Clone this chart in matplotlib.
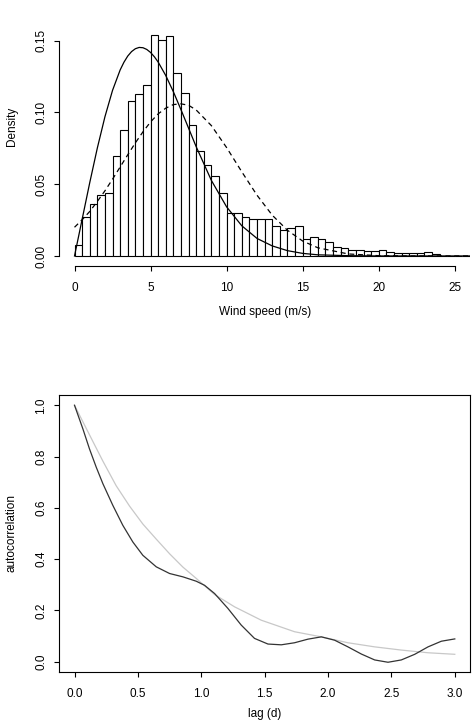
import numpy as np
import matplotlib.pyplot as plt

plt.rcParams['font.family'] = ['Liberation Sans', 'DejaVu Sans']

# --- histogram (density, bins of 0.5 m/s from 0 to 26) ---
bin_width = 0.5
density = [0.0076, 0.0273, 0.0359, 0.0424, 0.0440, 0.0694, 0.0880, 0.1083,
           0.1130, 0.1194, 0.1540, 0.1505, 0.1530, 0.1275, 0.1137, 0.0910,
           0.0731, 0.0632, 0.0558, 0.0438, 0.0296, 0.0296, 0.0273, 0.0260,
           0.0255, 0.0255, 0.0210, 0.0180, 0.0197, 0.0210, 0.0118, 0.0130,
           0.0116, 0.0095, 0.0062, 0.0055, 0.0042, 0.0040, 0.0032, 0.0032,
           0.0040, 0.0025, 0.0018, 0.0023, 0.0021, 0.0023, 0.0025, 0.0012,
           0.0003, 0.0003, 0.0003, 0.0003]
bin_left = np.arange(len(density)) * bin_width

# --- fitted curves ---
solid_x = [0, 0.5, 1, 1.5, 2, 2.5, 3, 3.25, 3.5, 3.75, 4, 4.25, 4.5, 4.75,
           5, 5.25, 5.5, 6, 6.5, 7, 7.5, 8, 9, 10, 11, 12, 13, 14, 15, 16,
           18, 20, 22, 24, 26]
fit_solid = [0.0, 0.0255, 0.0510, 0.0752, 0.0970, 0.1154, 0.1296, 0.1350,
             0.1393, 0.1424, 0.1444, 0.1453, 0.1451, 0.1439, 0.1418, 0.1388,
             0.1351, 0.1257, 0.1144, 0.1019, 0.0890, 0.0761, 0.0526, 0.0342,
             0.0210, 0.0122, 0.0070, 0.0037, 0.0018, 0.0008, 0.0002, 0.0,
             0.0, 0.0, 0.0]
dashed_x = [0, 0.5, 1, 1.5, 2, 2.5, 3, 3.5, 4, 4.5, 5, 5.5, 6, 6.5, 7, 7.5,
            8, 9, 10, 11, 12, 13, 14, 15, 16, 18, 20, 22, 24, 26]
fit_dashed = [0.0200, 0.0252, 0.0310, 0.0380, 0.0454, 0.0535, 0.0620, 0.0705,
              0.0788, 0.0865, 0.0934, 0.0990, 0.1030, 0.1055, 0.1060, 0.1050,
              0.1017, 0.0908, 0.0755, 0.0586, 0.0423, 0.0284, 0.0179, 0.0104,
              0.0057, 0.0014, 0.0002, 0.0, 0.0, 0.0]

# --- autocorrelation ---
lag_dark = [0.0, 0.066, 0.118, 0.171, 0.224, 0.302, 0.381, 0.46, 0.539,
            0.645, 0.75, 0.855, 0.96, 1.026, 1.105, 1.21, 1.315, 1.42, 1.526,
            1.631, 1.736, 1.841, 1.947, 2.052, 2.157, 2.263, 2.368, 2.473,
            2.578, 2.684, 2.789, 2.894, 3.0]
acf_dark = [1.0, 0.908, 0.830, 0.759, 0.694, 0.610, 0.532, 0.467, 0.415,
            0.370, 0.344, 0.331, 0.314, 0.298, 0.266, 0.208, 0.143, 0.091,
            0.069, 0.066, 0.074, 0.088, 0.097, 0.084, 0.058, 0.030, 0.007,
            -0.002, 0.007, 0.029, 0.058, 0.080, 0.089]
lag_light = [0.0, 0.118, 0.224, 0.329, 0.434, 0.539, 0.645, 0.75, 0.855,
             0.96, 1.105, 1.263, 1.473, 1.736, 1.947, 2.157, 2.368, 2.578,
             2.789, 3.0]
acf_light = [1.0, 0.885, 0.782, 0.686, 0.607, 0.537, 0.478, 0.421, 0.369,
             0.325, 0.262, 0.214, 0.162, 0.117, 0.097, 0.074, 0.058, 0.0455,
             0.035, 0.029]

W, H = 475, 721
fig = plt.figure(figsize=(W / 100, H / 100), dpi=100)

def px_axes(left, top, right, bottom):
    return fig.add_axes([left / W, 1 - bottom / H, (right - left) / W, (bottom - top) / H])

fs = 8.5
lw = 0.8

# --- panel 1: histogram ---
ax1 = px_axes(59.3, -12.7, 470, 266.3)
ax1.bar(bin_left, density, width=bin_width, align='edge', facecolor='white',
        edgecolor='black', linewidth=lw)
ax1.plot(solid_x, fit_solid, color='black', lw=0.9)
ax1.plot(dashed_x, fit_dashed, color='black', lw=0.9, ls=(0, (4, 3)))
ax1.set_xlim(-1, 26)
ax1.set_ylim(-0.0072, 0.1872)
ax1.spines['top'].set_visible(False)
ax1.spines['right'].set_visible(False)
ax1.spines['left'].set_bounds(0, 0.15)
ax1.spines['bottom'].set_bounds(0, 25)
ax1.set_xticks([0, 5, 10, 15, 20, 25])
ax1.set_yticks([0, 0.05, 0.10, 0.15])
ax1.set_yticklabels(['0.00', '0.05', '0.10', '0.15'])
ax1.set_xlabel('Wind speed (m/s)', fontsize=fs)
ax1.set_ylabel('Density', fontsize=fs)

# --- panel 2: autocorrelation ---
ax2 = px_axes(59.3, 395, 470, 672)
ax2.plot(lag_light, acf_light, color='#c8c8c8', lw=0.9)
ax2.plot(lag_dark, acf_dark, color='#333333', lw=0.9)
ax2.set_xlim(-0.12, 3.12)
ax2.set_ylim(-0.04, 1.04)
ax2.set_xticks([0.0, 0.5, 1.0, 1.5, 2.0, 2.5, 3.0])
ax2.set_yticks([0.0, 0.2, 0.4, 0.6, 0.8, 1.0])
ax2.xaxis.set_major_formatter(plt.FormatStrFormatter('%.1f'))
ax2.yaxis.set_major_formatter(plt.FormatStrFormatter('%.1f'))
ax2.set_xlabel('lag (d)', fontsize=fs)
ax2.set_ylabel('autocorrelation', fontsize=fs)

for ax in (ax1, ax2):
    for s in ax.spines.values():
        s.set_linewidth(lw)
    ax.tick_params(direction='out', length=3.6, width=lw, labelsize=fs)
    ax.tick_params(axis='x', pad=8)
    ax.tick_params(axis='y', pad=5)
    plt.setp(ax.get_yticklabels(), rotation=90, va='center')
    ax.xaxis.label.set_va('center')
    ax.yaxis.label.set_va('center')
    ax.yaxis.set_label_coords((12 - 59.3) / 410.7, 0.5)

ax1.xaxis.set_label_coords(0.5, -(312 - 266.3) / 279)
# the reference crops this label at the bottom edge; keep it just inside
ax2.xaxis.set_label_coords(0.5, -(713.5 - 672) / 277)

fig.savefig('out.png', dpi=100)
